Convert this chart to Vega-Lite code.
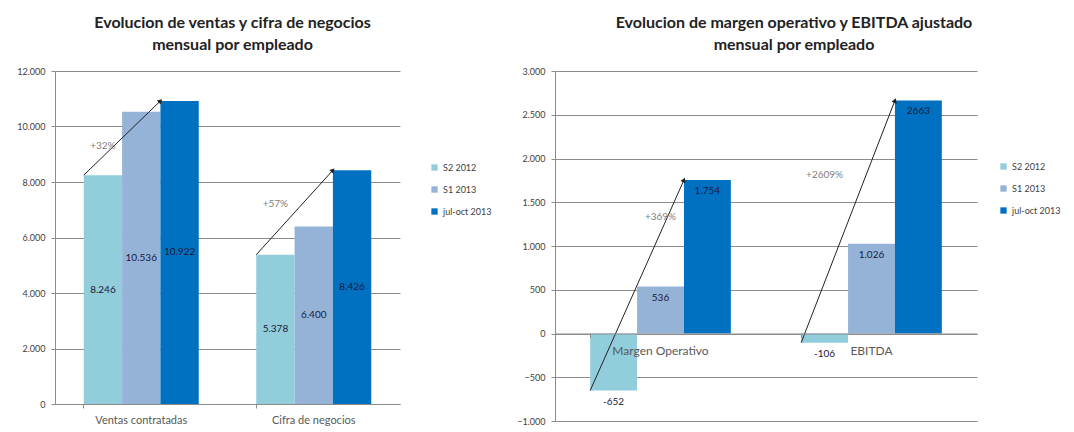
{
  "$schema": "https://vega.github.io/schema/vega-lite/v6.json",
  "background": "white",
  "padding": {"left": 5, "top": 15, "right": 0, "bottom": 0},
  "spacing": 18,
  "config": {
    "font": "Lato",
    "view": {"stroke": null},
    "axis": {
      "domainColor": "#8c8c8c", "tickColor": "#8c8c8c", "gridColor": "#8c8c8c",
      "labelColor": "#404040", "labelFont": "Lato"
    },
    "title": {"font": "Lato", "fontWeight": "bold", "fontSize": 16, "color": "#222222", "lineHeight": 22}
  },
  "resolve": {"scale": {"color": "independent", "y": "independent", "x": "independent"}, "legend": {"color": "independent"}},
  "hconcat": [
    {
      "width": 345, "height": 333,
      "title": {"text": ["Evolucion de ventas y cifra de negocios", "mensual por empleado"], "anchor": "middle", "dx": 5, "offset": 14},
      "data": {"values": [
        {"cat": "Ventas contratadas", "serie": "S2 2012", "value": 8246, "label": "8.246"},
        {"cat": "Ventas contratadas", "serie": "S1 2013", "value": 10536, "label": "10.536"},
        {"cat": "Ventas contratadas", "serie": "jul-oct 2013", "value": 10922, "label": "10.922"},
        {"cat": "Cifra de negocios", "serie": "S2 2012", "value": 5378, "label": "5.378"},
        {"cat": "Cifra de negocios", "serie": "S1 2013", "value": 6400, "label": "6.400"},
        {"cat": "Cifra de negocios", "serie": "jul-oct 2013", "value": 8426, "label": "8.426"}
      ]},
      "resolve": {"scale": {"xOffset": "independent"}},
      "encoding": {
        "x": {"field": "cat", "type": "nominal", "sort": ["Ventas contratadas", "Cifra de negocios"],
          "scale": {"paddingInner": 0.3333, "paddingOuter": 0.1667},
          "axis": {"title": null, "labelAngle": 0, "labelFontSize": 11, "labelColor": "#595959", "labelPadding": 6, "tickSize": 4, "bandPosition": 0}},
        "xOffset": {"field": "serie", "type": "nominal", "scale": {"type": "band", "domain": ["S2 2012", "S1 2013", "jul-oct 2013"], "paddingInner": 0, "paddingOuter": 0}}
      },
      "layer": [
        {
          "mark": {"type": "bar"},
          "encoding": {
            "y": {"field": "value", "type": "quantitative", "scale": {"domain": [0, 12000], "nice": false},
              "axis": {"title": null, "values": [0, 2000, 4000, 6000, 8000, 10000, 12000], "grid": true, "tickSize": 4, "labelFontSize": 9, "labelPadding": 6, "minExtent": 50, "maxExtent": 50,
                "labelExpr": "replace(format(datum.value, ','), ',', '.')"}},
            "color": {"field": "serie", "type": "nominal", "sort": ["S2 2012", "S1 2013", "jul-oct 2013"],
              "scale": {"domain": ["S2 2012", "S1 2013", "jul-oct 2013"], "range": ["#92CDDC", "#95B3D7", "#0070C0"]},
              "legend": {"title": null, "orient": "none", "legendX": 375, "legendY": 92, "symbolType": "square", "symbolSize": 40, "labelFontSize": 9, "labelColor": "#404040", "rowPadding": 12, "symbolStrokeWidth": 0}}
          }
        },
        {
          "transform": [{"calculate": "datum.value / 2", "as": "mid"}],
          "mark": {"type": "text", "fontSize": 10, "color": "#1a1a3a"},
          "encoding": {
            "y": {"field": "mid", "type": "quantitative", "scale": {"domain": [0, 12000], "nice": false}},
            "text": {"field": "label"}
          }
        },
        {
          "transform": [{"filter": "datum.serie != 'S1 2013'"}],
          "mark": {"type": "line", "color": "#222222", "strokeWidth": 1},
          "encoding": {
            "x": {"field": "cat", "type": "nominal", "bandPosition": 0, "sort": ["Ventas contratadas", "Cifra de negocios"]},
            "xOffset": {"field": "serie", "type": "nominal", "scale": {"type": "point", "domain": ["S2 2012", "S1 2013", "jul-oct 2013", "end"], "padding": 0}},
            "y": {"field": "value", "type": "quantitative", "scale": {"domain": [0, 12000], "nice": false}},
            "detail": {"field": "cat"}
          }
        },
        {
          "transform": [{"filter": "datum.serie == 'jul-oct 2013'"}],
          "mark": {"type": "point", "shape": "triangle-up", "filled": true, "color": "#222222", "size": 30, "opacity": 1,
            "angle": {"expr": "datum.cat == 'Ventas contratadas' ? 46 : 42"}},
          "encoding": {
            "x": {"field": "cat", "type": "nominal", "bandPosition": 0, "sort": ["Ventas contratadas", "Cifra de negocios"]},
            "xOffset": {"field": "serie", "type": "nominal", "scale": {"type": "point", "domain": ["S2 2012", "S1 2013", "jul-oct 2013", "end"], "padding": 0}},
            "y": {"field": "value", "type": "quantitative", "scale": {"domain": [0, 12000], "nice": false}}
          }
        },
        {
          "data": {"values": [
            {"cat": "Ventas contratadas", "serie": "S2 2012", "y": 9300, "text": "+32%"},
            {"cat": "Cifra de negocios", "serie": "S2 2012", "y": 7200, "text": "+57%"}
          ]},
          "mark": {"type": "text", "fontSize": 10, "color": "#808080"},
          "encoding": {
            "y": {"field": "y", "type": "quantitative", "scale": {"domain": [0, 12000], "nice": false}},
            "text": {"field": "text"}
          }
        }
      ]
    },
    {
      "width": 422, "height": 350,
      "title": {"text": ["Evolucion de margen operativo y EBITDA ajustado", "mensual por empleado"], "anchor": "middle", "dx": 28, "offset": 14},
      "data": {"values": [
        {"cat": "Margen Operativo", "serie": "S2 2012", "value": -652, "label": "-652"},
        {"cat": "Margen Operativo", "serie": "S1 2013", "value": 536, "label": "536"},
        {"cat": "Margen Operativo", "serie": "jul-oct 2013", "value": 1754, "label": "1.754"},
        {"cat": "EBITDA", "serie": "S2 2012", "value": -106, "label": "-106"},
        {"cat": "EBITDA", "serie": "S1 2013", "value": 1026, "label": "1.026"},
        {"cat": "EBITDA", "serie": "jul-oct 2013", "value": 2663, "label": "2663"}
      ]},
      "resolve": {"scale": {"xOffset": "independent"}},
      "encoding": {
        "x": {"field": "cat", "type": "nominal", "sort": ["Margen Operativo", "EBITDA"],
          "scale": {"paddingInner": 0.3333, "paddingOuter": 0.1667},
          "axis": {"title": null, "labelAngle": 0, "labelFontSize": 12, "labelColor": "#595959", "labelPadding": 8, "tickSize": 4, "bandPosition": 0, "offset": -87.5, "zindex": 1}},
        "xOffset": {"field": "serie", "type": "nominal", "scale": {"type": "band", "domain": ["S2 2012", "S1 2013", "jul-oct 2013"], "paddingInner": 0, "paddingOuter": 0}}
      },
      "layer": [
        {
          "mark": {"type": "bar"},
          "encoding": {
            "y": {"field": "value", "type": "quantitative", "scale": {"domain": [-1000, 3000], "nice": false},
              "axis": {"title": null, "values": [-1000, -500, 0, 500, 1000, 1500, 2000, 2500, 3000], "grid": true, "tickSize": 4, "labelFontSize": 9, "labelPadding": 6, "minExtent": 45, "maxExtent": 45,
                "labelExpr": "replace(format(datum.value, ','), ',', '.')"}},
            "color": {"field": "serie", "type": "nominal", "sort": ["S2 2012", "S1 2013", "jul-oct 2013"],
              "scale": {"domain": ["S2 2012", "S1 2013", "jul-oct 2013"], "range": ["#92CDDC", "#95B3D7", "#0070C0"]},
              "legend": {"title": null, "orient": "none", "legendX": 444, "legendY": 91, "symbolType": "square", "symbolSize": 40, "labelFontSize": 9, "labelColor": "#404040", "rowPadding": 12, "symbolStrokeWidth": 0}}
          }
        },
        {
          "mark": {"type": "text", "fontSize": 10, "color": "#1a1a3a", "baseline": "top", "dy": 6},
          "encoding": {
            "y": {"field": "value", "type": "quantitative", "scale": {"domain": [-1000, 3000], "nice": false}},
            "text": {"field": "label"}
          }
        },
        {
          "transform": [{"filter": "datum.serie != 'S1 2013'"}],
          "mark": {"type": "line", "color": "#222222", "strokeWidth": 1},
          "encoding": {
            "x": {"field": "cat", "type": "nominal", "bandPosition": 0, "sort": ["Margen Operativo", "EBITDA"]},
            "xOffset": {"field": "serie", "type": "nominal", "scale": {"type": "point", "domain": ["S2 2012", "S1 2013", "jul-oct 2013", "end"], "padding": 0}},
            "y": {"field": "value", "type": "quantitative", "scale": {"domain": [-1000, 3000], "nice": false}},
            "detail": {"field": "cat"}
          }
        },
        {
          "transform": [{"filter": "datum.serie == 'jul-oct 2013'"}],
          "mark": {"type": "point", "shape": "triangle-up", "filled": true, "color": "#222222", "size": 30, "opacity": 1,
            "angle": {"expr": "datum.cat == 'Margen Operativo' ? 24 : 21"}},
          "encoding": {
            "x": {"field": "cat", "type": "nominal", "bandPosition": 0, "sort": ["Margen Operativo", "EBITDA"]},
            "xOffset": {"field": "serie", "type": "nominal", "scale": {"type": "point", "domain": ["S2 2012", "S1 2013", "jul-oct 2013", "end"], "padding": 0}},
            "y": {"field": "value", "type": "quantitative", "scale": {"domain": [-1000, 3000], "nice": false}}
          }
        },
        {
          "data": {"values": [
            {"cat": "Margen Operativo", "serie": "S1 2013", "y": 1330, "text": "+369%"},
            {"cat": "EBITDA", "serie": "S2 2012", "y": 1810, "text": "+2609%"}
          ]},
          "mark": {"type": "text", "fontSize": 10, "color": "#808080"},
          "encoding": {
            "y": {"field": "y", "type": "quantitative", "scale": {"domain": [-1000, 3000], "nice": false}},
            "text": {"field": "text"}
          }
        }
      ]
    }
  ]
}
